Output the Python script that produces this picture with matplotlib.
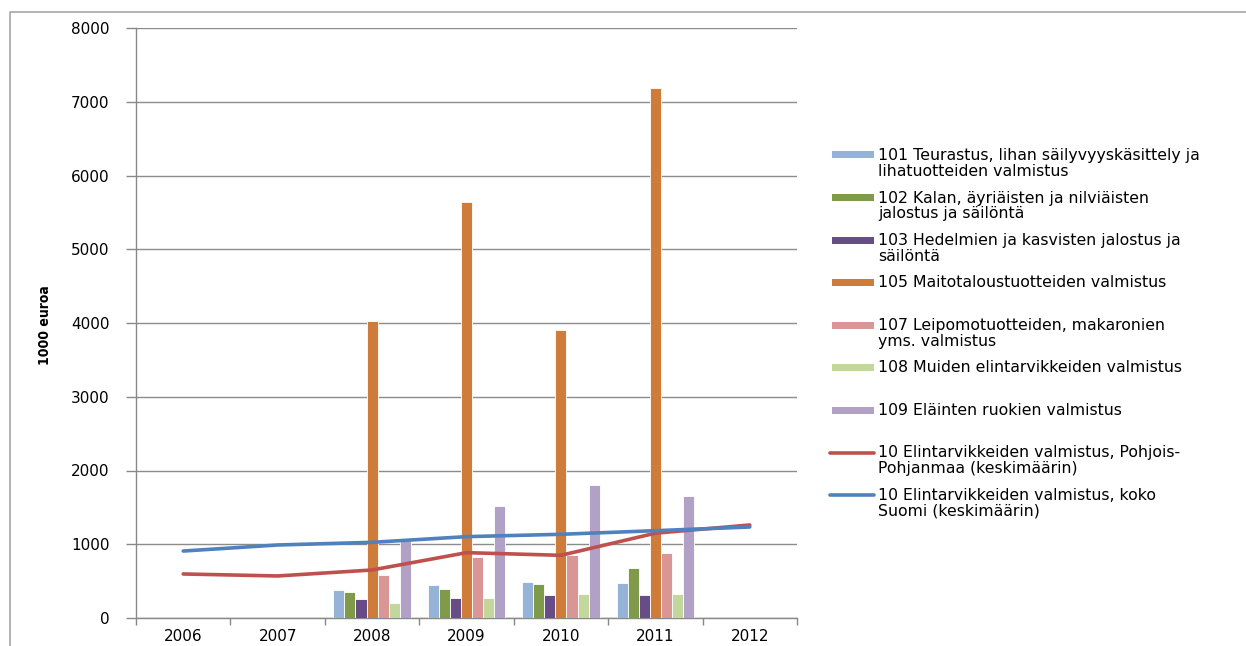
import matplotlib
matplotlib.use("Agg")
import matplotlib.pyplot as plt
import numpy as np
from matplotlib.lines import Line2D
from matplotlib.patches import Rectangle

years = ["2006", "2007", "2008", "2009", "2010", "2011", "2012"]

bar_labels = [
    "101 Teurastus, lihan säilyvyyskäsittely ja\nlihatuotteiden valmistus",
    "102 Kalan, äyriäisten ja nilviäisten\njalostus ja säilöntä",
    "103 Hedelmien ja kasvisten jalostus ja\nsäilöntä",
    "105 Maitotaloustuotteiden valmistus",
    "107 Leipomotuotteiden, makaronien\nyms. valmistus",
    "108 Muiden elintarvikkeiden valmistus",
    "109 Eläinten ruokien valmistus",
]
bar_colors = ["#95b3d7", "#7f9a48", "#664d86", "#cf7c3a", "#d99694", "#c3d69b", "#b2a1c7"]

# values for 2008-2011 (no data for 2006, 2007, 2012)
v101 = [None, None, 380, 447, 488, 479, None]
v102 = [None, None, 353, 393, 461, 683, None]
v103 = [None, None, 262, 276, 307, 316, None]
v105 = [None, None, 4027, 5640, 3905, 7186, None]
v107 = [None, None, 587, 832, 854, 881, None]
v108 = [None, None, 199, 267, 325, 325, None]
v109 = [None, None, 1044, 1519, 1797, 1658, None]
bar_series = [v101, v102, v103, v105, v107, v108, v109]

line_labels = [
    "10 Elintarvikkeiden valmistus, Pohjois-\nPohjanmaa (keskimäärin)",
    "10 Elintarvikkeiden valmistus, koko\nSuomi (keskimäärin)",
]
pohjois_pohjanmaa = [597, 570, 651, 886, 850, 1150, 1261]
koko_suomi = [908, 990, 1026, 1103, 1135, 1184, 1234]
line_colors = ["#c0504d", "#4f81bd"]

W, H = 1246, 646
fig = plt.figure(figsize=(W / 100, H / 100), dpi=100)
ax = fig.add_axes([136 / W, 1 - 618 / H, (797 - 136) / W, (618 - 28) / H])

x = np.arange(len(years))
bw = 0.117
for i, (vals, col, lab) in enumerate(zip(bar_series, bar_colors, bar_labels)):
    xs = [xi for xi, v in zip(x, vals) if v is not None]
    ys = [v for v in vals if v is not None]
    off = (i - 3) * bw
    ax.bar(np.array(xs) + off, ys, width=bw, color=col, edgecolor="white",
           linewidth=0.6, zorder=3, label=lab)

for vals, col, lab in zip([pohjois_pohjanmaa, koko_suomi], line_colors, line_labels):
    ax.plot(x, vals, color=col, linewidth=2.6, zorder=4, label=lab,
            solid_capstyle="round")

ax.set_xlim(-0.5, len(years) - 0.5)
ax.set_ylim(0, 8000)
ax.set_yticks(np.arange(0, 8001, 1000))
ax.set_xticks(x)
ax.set_xticklabels(years, fontsize=11)
ax.set_xticks(np.arange(-0.5, len(years), 1), minor=True)
ax.tick_params(axis="x", which="major", length=0, pad=8)
ax.tick_params(axis="x", which="minor", length=5, color="#888888", width=1)
ax.tick_params(axis="y", length=7, color="#888888", width=1, labelsize=11, pad=12)
ax.grid(axis="y", color="#8c8c8c", linewidth=1, zorder=0)
for s in ["top", "right"]:
    ax.spines[s].set_visible(False)
for s in ["left", "bottom"]:
    ax.spines[s].set_color("#888888")
    ax.spines[s].set_linewidth(1)

fig.text(45 / W, 1 - 325 / H, "1000 euroa", rotation=90, ha="center", va="center",
         fontsize=10, fontweight="bold", fontstretch="condensed")

# legend: one row per series, handle aligned with the first text line
legend_top = 155
legend_step = 42.5
for k, lab in enumerate(bar_labels + line_labels):
    yc = 1 - (legend_top + k * legend_step) / H
    if k < len(bar_colors):
        fig.add_artist(Rectangle((832 / W, yc - 3.5 / H), 42 / W, 7 / H,
                                 transform=fig.transFigure, facecolor=bar_colors[k],
                                 edgecolor="none"))
    else:
        fig.add_artist(Line2D([830 / W, 874 / W], [yc, yc], transform=fig.transFigure,
                              color=line_colors[k - len(bar_colors)], linewidth=2.6,
                              solid_capstyle="round"))
    fig.text(878 / W, yc + 7 / H, lab, ha="left", va="top", fontsize=11.3,
             linespacing=1.05)

# outer chart frame
fig.add_artist(Line2D([10 / W, 10 / W, 1.0], [0.0, 1 - 12 / H, 1 - 12 / H],
                      transform=fig.transFigure, color="#a6a6a6", linewidth=1.2))

fig.savefig("out.png", dpi=100)
